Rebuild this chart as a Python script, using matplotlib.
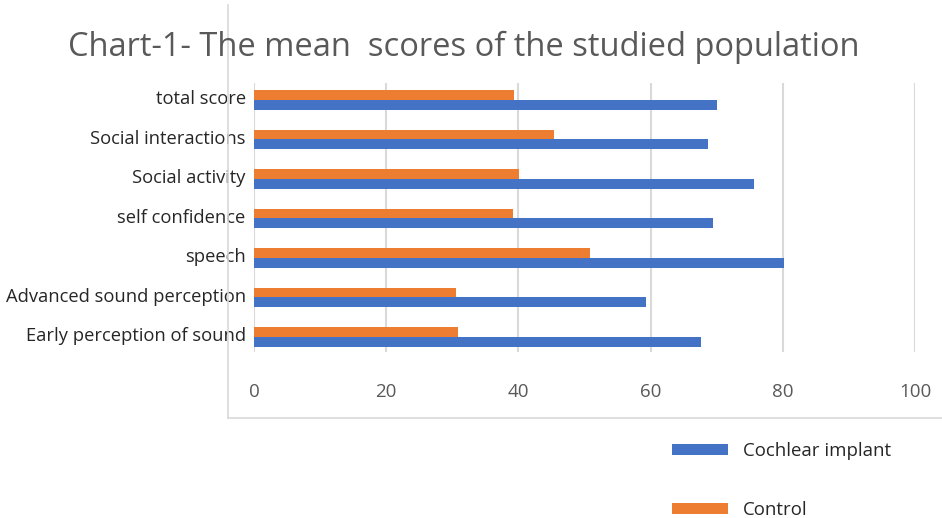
import numpy as np
import matplotlib.pyplot as plt
from matplotlib.lines import Line2D

categories = ["Early perception of sound", "Advanced sound perception", "speech",
              "self confidence", "Social activity", "Social interactions", "total score"]
cochlear = [67.7, 59.3, 80.2, 69.4, 75.7, 68.7, 70.1]
control = [30.8, 30.6, 50.8, 39.2, 40.1, 45.4, 39.4]
xticks = [0, 20, 40, 60, 80, 100]

blue = "#4472c4"
orange = "#ed7d31"
grey = "#595959"
plt.rcParams['font.family'] = ['Open Sans', 'DejaVu Sans']

fig = plt.figure(figsize=(9.42, 5.18), dpi=100)
ax = fig.add_axes([0.2696, 0.3205, 0.7017, 0.5193])

y = np.arange(len(categories))
h = 0.25
b1 = ax.barh(y - h / 2, cochlear, height=h, color=blue, label="Cochlear implant", zorder=3)
b2 = ax.barh(y + h / 2, control, height=h, color=orange, label="Control", zorder=3)

ax.set_xlim(0, 100)
ax.set_ylim(-0.38, 6.43)
ax.set_xticks(xticks)
ax.set_yticks(y + 0.07)
ax.set_yticklabels(categories, fontsize=13.2, color="#262626")
ax.tick_params(axis='x', length=0, pad=22, labelsize=13.5, labelcolor=grey)
ax.tick_params(axis='y', length=0, pad=6)
ax.grid(axis='x', color="#d9d9d9", linewidth=1.5, zorder=0)
for s in ax.spines.values():
    s.set_visible(False)

fig.text(0.4926, 0.909, "Chart-1- The mean  scores of the studied population",
         ha='center', va='center', fontsize=23.5, color=grey)

# chart area border (left and bottom only visible)
fig.add_artist(Line2D([228 / 942, 228 / 942], [1 - 5 / 518, 1 - 418 / 518],
                      color="#d9d9d9", linewidth=1.2))
fig.add_artist(Line2D([228 / 942, 1.0], [1 - 418 / 518, 1 - 418 / 518],
                      color="#d9d9d9", linewidth=1.2))

fig.legend(handles=[b1, b2], loc='upper left', bbox_to_anchor=(672 / 942, 1 - 442 / 518),
           frameon=False, fontsize=13.4, handlelength=3.0, handleheight=0.5,
           handletextpad=0.8, labelspacing=2.2, borderpad=0, borderaxespad=0,
           labelcolor="#262626")

fig.savefig("out.png", dpi=100)
